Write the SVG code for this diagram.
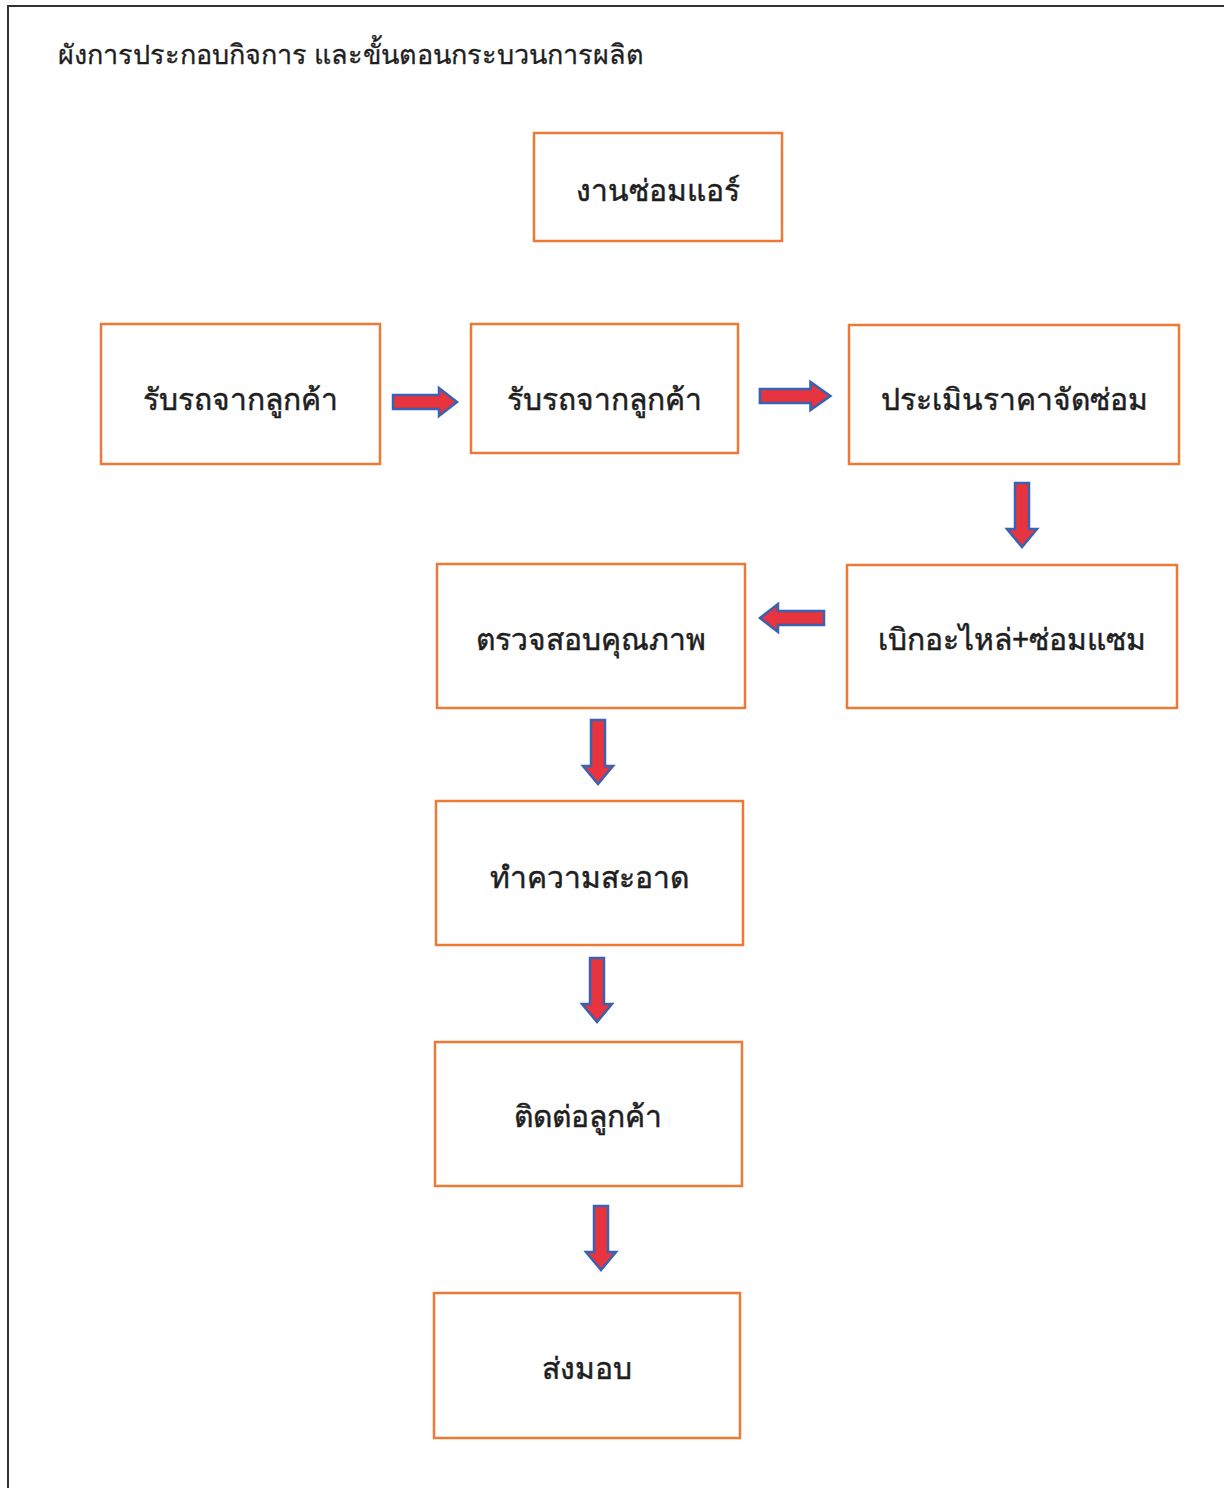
<svg xmlns="http://www.w3.org/2000/svg" width="1224" height="1488" viewBox="0 0 1224 1488">
<defs>
<style>
.box{fill:#fff;stroke:#ec7a35;stroke-width:2.5}
.lbl{font-family:"Noto Sans","DejaVu Sans",sans-serif;font-size:30px;fill:#1e1e1e;stroke:#1e1e1e;stroke-width:0.5;text-anchor:middle;dominant-baseline:central}
.ttl{font-family:"Noto Sans","DejaVu Sans",sans-serif;font-size:27px;fill:#1e1e1e;stroke:#1e1e1e;stroke-width:0.3}
.arr{fill:#e8343e;stroke:#3a62b0;stroke-width:2.5;stroke-linejoin:miter}
.frame{fill:none;stroke:#333;stroke-width:2}
</style>
<path id="rA" d="M0,-7 L46,-7 L46,-14 L64,0 L46,14 L46,7 L0,7 Z"/>
<path id="dA" d="M-7,0 L-7,46 L-15,46 L0,64 L15,46 L7,46 L7,0 Z"/>
</defs>
<rect width="1224" height="1488" fill="#fff"/>
<path class="frame" d="M8,1488 L8,6 L1224,6"/>
<text class="ttl" x="58" y="64">ผังการประกอบกิจการ และขั้นตอนกระบวนการผลิต</text>
<g id="connectors">
<use href="#rA" class="arr" transform="translate(393,402)"/>
<use href="#rA" class="arr" transform="translate(760,396) scale(1.1,1)"/>
<use href="#dA" class="arr" transform="translate(1022,483)"/>
<use href="#rA" class="arr" transform="translate(824,618) scale(-1,1)"/>
<use href="#dA" class="arr" transform="translate(598,720)"/>
<use href="#dA" class="arr" transform="translate(597,958)"/>
<use href="#dA" class="arr" transform="translate(601,1206)"/>
</g>
<g id="n1"><rect class="box" x="534" y="133" width="248" height="108"/><text class="lbl" x="658" y="189">งานซ่อมแอร์</text></g>
<g id="n2"><rect class="box" x="101" y="324" width="279" height="140"/><text class="lbl" x="240" y="398">รับรถจากลูกค้า</text></g>
<g id="n3"><rect class="box" x="471" y="324" width="267" height="129"/><text class="lbl" x="604" y="398">รับรถจากลูกค้า</text></g>
<g id="n4"><rect class="box" x="849" y="325" width="330" height="139"/><text class="lbl" x="1014" y="398">ประเมินราคาจัดซ่อม</text></g>
<g id="n5"><rect class="box" x="847" y="565" width="330" height="143"/><text class="lbl" x="1012" y="638">เบิกอะไหล่+ซ่อมแซม</text></g>
<g id="n6"><rect class="box" x="437" y="564" width="308" height="144"/><text class="lbl" x="591" y="638">ตรวจสอบคุณภาพ</text></g>
<g id="n7"><rect class="box" x="436" y="801" width="307" height="144"/><text class="lbl" x="589" y="876">ทำความสะอาด</text></g>
<g id="n8"><rect class="box" x="435" y="1042" width="307" height="144"/><text class="lbl" x="588" y="1115">ติดต่อลูกค้า</text></g>
<g id="n9"><rect class="box" x="434" y="1293" width="306" height="145"/><text class="lbl" x="587" y="1367">ส่งมอบ</text></g>
</svg>
